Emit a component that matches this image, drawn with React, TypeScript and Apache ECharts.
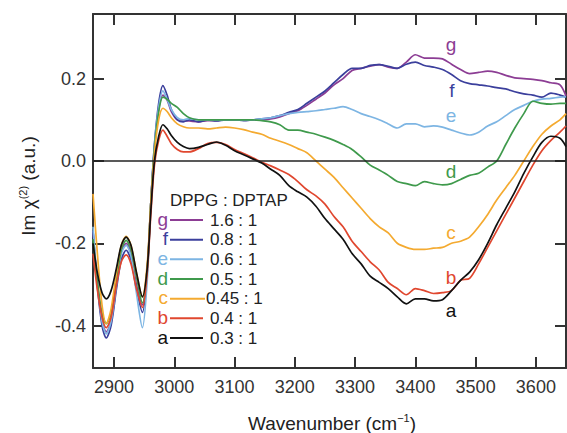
import React, { useEffect, useRef } from 'react';
import * as echarts from 'echarts';

const wavenumbers = [
  2865, 2872, 2880, 2887, 2895, 2904, 2912, 2920, 2928, 2937, 2947, 2955, 2961, 2967,
  2974, 2981, 2988, 2995, 3005, 3015, 3025,
  3040, 3055, 3070, 3085,
  3100, 3115, 3130, 3145, 3160, 3175, 3190, 3205, 3220, 3235,
  3250, 3265, 3280, 3295, 3310, 3325, 3340, 3355, 3370, 3385,
  3400, 3415, 3430, 3445, 3460, 3475, 3490, 3505,
  3520, 3535, 3550, 3565, 3580, 3595, 3610, 3625, 3640, 3650,
];

const valuesG = [
  -0.17, -0.29, -0.39, -0.415, -0.39, -0.30, -0.22, -0.20, -0.225, -0.30, -0.35, -0.26, -0.10, 0.035,
  0.125, 0.16, 0.148, 0.12, 0.10, 0.098, 0.097,
  0.095, 0.098, 0.098, 0.1,
  0.1, 0.1, 0.1, 0.1, 0.102, 0.107, 0.115, 0.122, 0.135, 0.15,
  0.165, 0.185, 0.2, 0.22, 0.225, 0.23, 0.234, 0.228, 0.225, 0.24,
  0.258, 0.25, 0.25, 0.248, 0.235, 0.222, 0.212, 0.215,
  0.218, 0.215, 0.208, 0.202, 0.2, 0.198, 0.195, 0.19, 0.185, 0.158,
];
const valuesF = [
  -0.17, -0.30, -0.40, -0.43, -0.40, -0.31, -0.24, -0.217, -0.24, -0.31, -0.368, -0.27, -0.10, 0.04,
  0.14, 0.183, 0.16, 0.125, 0.10, 0.095, 0.1,
  0.095, 0.1, 0.097, 0.1,
  0.1, 0.098, 0.1, 0.102, 0.105, 0.11, 0.118, 0.125, 0.14, 0.155,
  0.17, 0.19, 0.21, 0.225, 0.225, 0.232, 0.234, 0.23, 0.225, 0.235,
  0.24, 0.232, 0.228, 0.222, 0.21, 0.195, 0.188, 0.185,
  0.182, 0.178, 0.175, 0.168, 0.163, 0.16, 0.155, 0.165, 0.16, 0.155,
];
const valuesE = [
  -0.16, -0.29, -0.39, -0.42, -0.39, -0.30, -0.225, -0.205, -0.23, -0.32, -0.405, -0.29, -0.10, 0.04,
  0.13, 0.17, 0.15, 0.125, 0.105, 0.1, 0.103,
  0.1, 0.1, 0.1, 0.1,
  0.1, 0.1, 0.1, 0.102, 0.105, 0.11, 0.115, 0.118, 0.12, 0.122,
  0.125, 0.128, 0.132, 0.125, 0.115, 0.108, 0.1, 0.09, 0.08, 0.09,
  0.09, 0.083, 0.085, 0.082, 0.075, 0.068, 0.063, 0.07,
  0.085, 0.095, 0.11, 0.125, 0.135, 0.145, 0.15, 0.152, 0.155, 0.156,
];
const valuesD = [
  -0.19, -0.29, -0.37, -0.395, -0.37, -0.29, -0.215, -0.193, -0.215, -0.28, -0.345, -0.26, -0.10, 0.03,
  0.12, 0.155, 0.15, 0.14, 0.13, 0.115, 0.105,
  0.1, 0.1, 0.1, 0.1,
  0.1, 0.1, 0.1, 0.098, 0.095, 0.088, 0.075, 0.075, 0.07, 0.065,
  0.058, 0.05, 0.04, 0.028, 0.01, -0.01, -0.022, -0.035, -0.05, -0.055,
  -0.06, -0.05, -0.055, -0.058, -0.055, -0.045, -0.035, -0.03,
  -0.015, 0.0, 0.04, 0.08, 0.115, 0.145, 0.14, 0.138, 0.14, 0.14,
];
const valuesC = [
  -0.08, -0.22, -0.35, -0.395, -0.36, -0.27, -0.205, -0.183, -0.205, -0.27, -0.33, -0.25, -0.10, 0.02,
  0.10, 0.128, 0.12, 0.105, 0.09, 0.083, 0.08,
  0.08, 0.078, 0.08, 0.082,
  0.08, 0.076, 0.07, 0.065, 0.055, 0.048, 0.04, 0.03, 0.02, 0.0,
  -0.02, -0.04, -0.065, -0.09, -0.115, -0.14, -0.16, -0.175, -0.2, -0.21,
  -0.215, -0.215, -0.212, -0.21, -0.2, -0.195, -0.185, -0.16,
  -0.13, -0.095, -0.065, -0.035, 0.0, 0.035, 0.065, 0.085, 0.1, 0.115,
];
const valuesB = [
  -0.225, -0.31, -0.38, -0.405, -0.38, -0.30, -0.245, -0.228, -0.25, -0.31, -0.356, -0.27, -0.13, -0.01,
  0.05, 0.075, 0.06, 0.042, 0.028, 0.022, 0.022,
  0.03, 0.042, 0.045, 0.04,
  0.028, 0.018, 0.008, -0.003, -0.012, -0.022, -0.033, -0.05, -0.07, -0.085,
  -0.105, -0.135, -0.16, -0.195, -0.22, -0.245, -0.265, -0.295, -0.31, -0.325,
  -0.31, -0.315, -0.322, -0.32, -0.315, -0.29, -0.285, -0.25,
  -0.21, -0.17, -0.13, -0.09, -0.05, -0.01, 0.025, 0.05, 0.07, 0.085,
];
const valuesA = [
  -0.20, -0.27, -0.32, -0.335, -0.315, -0.26, -0.205, -0.185, -0.205, -0.27, -0.33, -0.26, -0.12, 0.0,
  0.06, 0.088, 0.078, 0.062, 0.045, 0.035, 0.03,
  0.033, 0.04, 0.046, 0.038,
  0.025, 0.015, 0.005, -0.005, -0.02, -0.035, -0.06, -0.075, -0.088, -0.11,
  -0.14, -0.165, -0.19, -0.225, -0.25, -0.28, -0.295, -0.31, -0.33, -0.347,
  -0.335, -0.335, -0.34, -0.337, -0.315, -0.29, -0.27, -0.24,
  -0.2, -0.155, -0.115, -0.075, -0.03, 0.01, 0.045, 0.06, 0.055, 0.035,
];

const seriesLetters = ['g', 'f', 'e', 'd', 'c', 'b', 'a'];
const ratioLabels = ['1.6 : 1', '0.8 : 1', '0.6 : 1', '0.5 : 1', '0.45 : 1', '0.4 : 1', '0.3 : 1'];
const seriesValues = [valuesG, valuesF, valuesE, valuesD, valuesC, valuesB, valuesA];
const seriesColors = ['#8c3d94', '#3b3f9c', '#7db5e3', '#3f9a4c', '#f4aa30', '#e0472f', '#111111'];
const legendTitle = 'DPPG : DPTAP';

const xTicks = [2900, 3000, 3100, 3200, 3300, 3400, 3500, 3600];
const yTicks = [-0.4, -0.2, 0, 0.2];

const FONT = '"Liberation Sans", Arial, Helvetica, sans-serif';
const AXIS_COLOR = '#333';

// in-plot curve letter positions (pixel layout)
const curveLabelPos = [
  [451, 44], [452, 90], [451, 115], [451, 171], [451, 232], [451, 277], [451, 310],
];

export default function App() {
  const ref = useRef<HTMLDivElement>(null);
  useEffect(() => {
    if (!ref.current) return;
    const chart = echarts.init(ref.current, undefined, { renderer: 'svg' });

    const axisCommonX = (pos: 'top' | 'bottom', showLabel: boolean) => ({
      type: 'value' as const,
      position: pos,
      min: 2865,
      max: 3650,
      axisLine: { show: true, onZero: false, lineStyle: { color: AXIS_COLOR, width: 2 } },
      axisTick: { show: true, inside: true, length: 11, customValues: xTicks, lineStyle: { color: AXIS_COLOR, width: 2 } },
      axisLabel: {
        show: showLabel, customValues: xTicks, fontSize: 18, color: AXIS_COLOR, margin: 10, fontFamily: FONT,
        formatter: (v: number) => String(Math.round(v)),
      },
      splitLine: { show: false },
    });
    const axisCommonY = (pos: 'left' | 'right', showLabel: boolean) => ({
      type: 'value' as const,
      position: pos,
      min: -0.503,
      max: 0.357,
      axisLine: { show: true, onZero: false, lineStyle: { color: AXIS_COLOR, width: 2 } },
      axisTick: { show: true, inside: true, length: 11, customValues: yTicks, lineStyle: { color: AXIS_COLOR, width: 2 } },
      axisLabel: {
        show: showLabel, customValues: yTicks, fontSize: 18, color: AXIS_COLOR, margin: 7, fontFamily: FONT,
        formatter: (v: number) => v.toFixed(1),
      },
      splitLine: { show: false },
    });

    const series: any[] = seriesValues.map((vals, i) => ({
      type: 'line',
      name: seriesLetters[i],
      data: wavenumbers.map((w, j) => [w, vals[j]]),
      showSymbol: false,
      smooth: 0.3,
      clip: true,
      lineStyle: { color: seriesColors[i], width: 1.7 },
      itemStyle: { color: seriesColors[i] },
      z: 2 + i,
    }));
    series[series.length - 1].markLine = {
      silent: true,
      symbol: 'none',
      label: { show: false },
      lineStyle: { color: '#222', width: 1.5, type: 'solid' },
      data: [{ yAxis: 0 }],
      z: 20,
    };

    const graphics: any[] = [];
    // legend title
    graphics.push({
      type: 'text', x: 170, y: 200,
      style: { text: legendTitle, fontSize: 17, fontFamily: FONT, fill: '#222', textVerticalAlign: 'middle' },
    });
    seriesLetters.forEach((letter, i) => {
      const y = 220 + i * 19.67;
      graphics.push({
        type: 'text', x: 168, y: y - 1,
        style: { text: letter, fontSize: 19, fontFamily: FONT, fill: seriesColors[i], textAlign: 'right', textVerticalAlign: 'middle' },
      });
      const isC = letter === 'c';
      graphics.push({
        type: 'line',
        shape: { x1: 170, y1: y, x2: isC ? 205 : 203, y2: y },
        style: { stroke: seriesColors[i], lineWidth: 2 },
      });
      graphics.push({
        type: 'text', x: isC ? 206 : 210, y,
        style: { text: ratioLabels[i], fontSize: 17, fontFamily: FONT, fill: '#222', textVerticalAlign: 'middle' },
      });
      graphics.push({
        type: 'text', x: curveLabelPos[i][0], y: curveLabelPos[i][1],
        style: { text: letter, fontSize: 19, fontFamily: FONT, fill: seriesColors[i], textAlign: 'center', textVerticalAlign: 'middle' },
      });
    });
    // axis titles
    graphics.push({
      type: 'text', x: 332, y: 423,
      style: {
        text: '{a|Wavenumber (cm}{s|−1}{a|)}',
        textAlign: 'center', textVerticalAlign: 'middle',
        rich: {
          a: { fontSize: 19, fontFamily: FONT, fill: '#222', lineHeight: 22 },
          s: { fontSize: 11, fontFamily: FONT, fill: '#222', verticalAlign: 'top', lineHeight: 22 },
        },
      },
    });
    graphics.push({
      type: 'text', x: 28, y: 186, rotation: Math.PI / 2,
      style: {
        text: '{a|Im χ}{s|(2)}{a| (a.u.)}',
        textAlign: 'center', textVerticalAlign: 'middle',
        rich: {
          a: { fontSize: 19, fontFamily: FONT, fill: '#222', lineHeight: 22 },
          s: { fontSize: 11, fontFamily: FONT, fill: '#222', verticalAlign: 'top', lineHeight: 22 },
        },
      },
    });

    chart.setOption({
      animation: false,
      backgroundColor: '#ffffff',
      grid: { left: 93, top: 14, right: 1, bottom: 65, containLabel: false },
      xAxis: [axisCommonX('bottom', true), axisCommonX('top', false)],
      yAxis: [axisCommonY('left', true), axisCommonY('right', false)],
      series,
      graphic: graphics,
    });
    return () => chart.dispose();
  }, []);
  return (
    <div
      ref={ref}
      style={{ position: 'absolute', left: 0, top: 0, width: 567, height: 433, background: '#fff' }}
    />
  );
}
